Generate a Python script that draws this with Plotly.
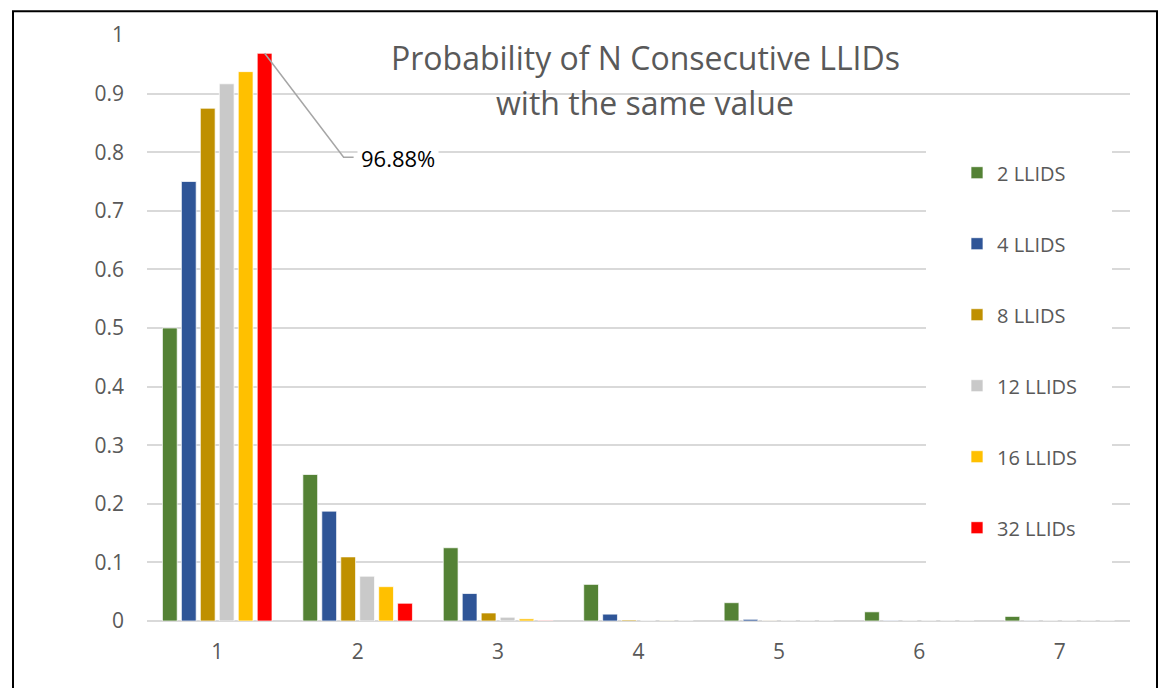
import plotly.graph_objects as go

# ---- data ----
categories = [1, 2, 3, 4, 5, 6, 7]
series_names = ["2 LLIDS", "4 LLIDS", "8 LLIDS", "12 LLIDS", "16 LLIDS", "32 LLIDs"]
vals_2 = [0.5, 0.25, 0.125, 0.0625, 0.03125, 0.015625, 0.0078125]
vals_4 = [0.75, 0.1875, 0.046875, 0.0117, 0.0029, 0.0007, 0.0002]
vals_8 = [0.875, 0.1094, 0.0137, 0.0017, 0.0002, 0.00003, 0.000003]
vals_12 = [0.9167, 0.0764, 0.0064, 0.0005, 0.00004, 0.000004, 0.0000003]
vals_16 = [0.9375, 0.0586, 0.0037, 0.0002, 0.00001, 0.000001, 0.0]
vals_32 = [0.96875, 0.0303, 0.0009, 0.00003, 0.000001, 0.0, 0.0]
all_vals = [vals_2, vals_4, vals_8, vals_12, vals_16, vals_32]
colors = ["#548235", "#2F5597", "#BF9000", "#C9C9C9", "#FFC000", "#FF0000"]
ytick_vals = [0, 0.1, 0.2, 0.3, 0.4, 0.5, 0.6, 0.7, 0.8, 0.9, 1]
ytick_text = ["0", "0.1", "0.2", "0.3", "0.4", "0.5", "0.6", "0.7", "0.8", "0.9", "1"]
title_lines = ["Probability of N Consecutive LLIDs", "with the same value"]

FONT = "Open Sans"
TXT = "#595959"
GRID = "#D9D9D9"

# page has an 8px body margin: work in page pixels and subtract it
OFF = 8
W, H = 1167 - OFF, 696 - 2 * OFF
PL, PR, PT, PB = 147, 1130, 31, 621          # plot area in page pixels
L, R, T, B = PL - OFF, W - (PR - OFF), PT - OFF, H - (PB - OFF)
pw, ph = PR - PL, PB - PT
BARGAP = 0.19
GROUPGAP = 0.22


def px_x(xp):  # page x -> paper
    return (xp - PL) / pw


def px_y(yp):  # page y -> paper
    return (PB - yp) / ph


fig = go.Figure()
for name, vals, col in zip(series_names, all_vals, colors):
    fig.add_trace(go.Bar(
        x=categories, y=vals, name=name, legendgroup=name,
        marker=dict(color=col, line=dict(color="rgba(255,255,255,0.7)", width=1)),
        hoverinfo="skip",
    ))

# data label on 32 LLIDs, category 1
n = len(series_names)
group_w = 1 - BARGAP
red_x = categories[0] - group_w / 2 + (n - 0.5) * group_w / n
red_y = vals_32[0]

fig.add_shape(
    type="path", xref="x", yref="y",
    xsizemode="pixel", ysizemode="pixel",
    xanchor=red_x, yanchor=red_y,
    path="M0,0 L79,-104 L89,-104",
    line=dict(color="#A6A6A6", width=1.5),
)
fig.add_annotation(
    x=red_x, y=red_y, xref="x", yref="y",
    text=f"{red_y*100:.2f}%", showarrow=False,
    xanchor="left", yanchor="middle",
    xshift=92, yshift=-105,
    bgcolor="white", borderpad=3,
    font=dict(family=FONT, size=22, color="black"),
)

# title (two lines)
for line, yc in zip(title_lines, [54, 99]):
    fig.add_annotation(
        x=px_x(645), y=px_y(yc), xref="paper", yref="paper",
        text=line, showarrow=False, xanchor="center", yanchor="middle",
        font=dict(family=FONT, size=32, color=TXT),
    )

# white legend box background (hides gridlines behind the legend)
fig.add_shape(
    type="rect", xref="paper", yref="paper",
    x0=px_x(926), x1=px_x(1112), y0=px_y(578), y1=px_y(132),
    fillcolor="white", line=dict(width=0), layer="above",
)

# outer frame
fig.add_shape(
    type="rect", xref="paper", yref="paper",
    x0=px_x(13), x1=px_x(1157),
    y0=px_y(720), y1=px_y(7),
    line=dict(color="black", width=2), layer="above",
)

fig.update_layout(
    width=W, height=H,
    margin=dict(l=L, r=R, t=T, b=B),
    paper_bgcolor="white", plot_bgcolor="white",
    barmode="group", bargap=BARGAP, bargroupgap=GROUPGAP,
    font=dict(family=FONT, color=TXT, size=20),
    showlegend=True,
    legend=dict(
        x=px_x(957), xanchor="left",
        y=px_y(150), yanchor="top",
        bgcolor="rgba(255,255,255,0)", tracegroupgap=42,
        font=dict(family=FONT, size=20, color=TXT),
        traceorder="grouped",
    ),
    xaxis=dict(
        range=[0.5, 7.5], tickvals=categories, ticktext=[str(c) for c in categories],
        showgrid=False, zeroline=False, showline=False, ticks="",
        ticklabelstandoff=16,
        tickfont=dict(family=FONT, size=21, color=TXT),
    ),
    yaxis=dict(
        range=[0, 1], tickvals=ytick_vals, ticktext=ytick_text,
        showgrid=True, gridcolor=GRID, gridwidth=2,
        zeroline=True, zerolinecolor=GRID, zerolinewidth=2,
        showline=False, ticks="", ticklabelstandoff=22,
        tickfont=dict(family=FONT, size=21, color=TXT),
    ),
)

fig.write_html("out.html")
